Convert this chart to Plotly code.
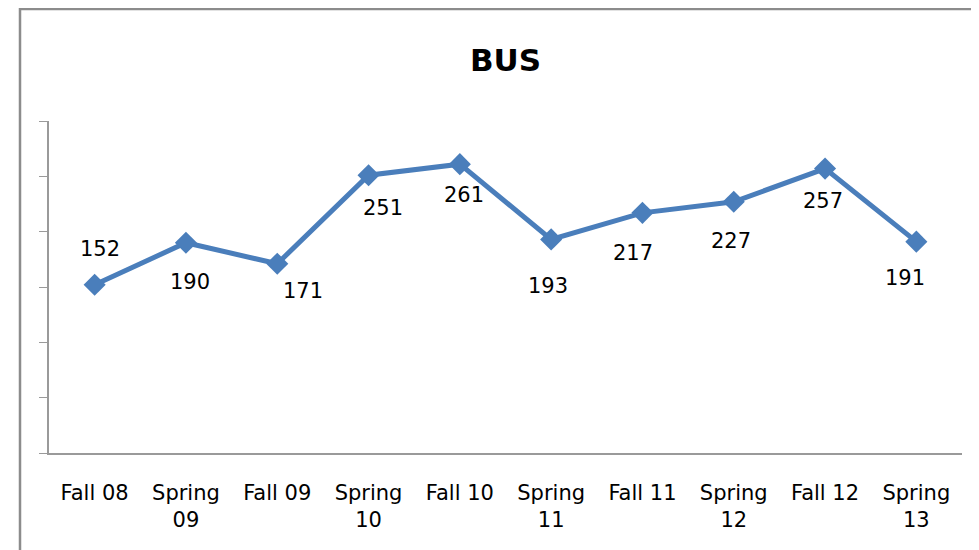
import plotly.graph_objects as go

# terms and BUS counts
terms = ["Fall 08", "Spring<br>09", "Fall 09", "Spring<br>10", "Fall 10",
         "Spring<br>11", "Fall 11", "Spring<br>12", "Fall 12", "Spring<br>13"]
bus = [152, 190, 171, 251, 261, 193, 217, 227, 257, 191]

# hand-placed label offsets (pixels), like the original chart
label_dx = [5, 4, 26, 14, 4, -3, -9, -3, -2, -11]
label_dy = [36, -39, -27, -33, -31, -47, -40, -39, -32, -36]

font = "'DejaVu Sans', sans-serif"

fig = go.Figure()
fig.add_trace(go.Scatter(
    x=terms, y=bus, mode="lines+markers",
    line=dict(color="#4A7EBB", width=5),
    marker=dict(symbol="diamond", size=17, color="#4A7EBB"),
    showlegend=False, hoverinfo="x+y",
))

for t, v, dx, dy in zip(terms, bus, label_dx, label_dy):
    fig.add_annotation(x=t, y=v, text=str(v), showarrow=False,
                       xshift=dx, yshift=dy,
                       font=dict(family=font, size=21, color="black"))

# outer chart border (top and left edges visible)
fig.add_shape(type="rect", xref="paper", yref="paper",
              x0=(20 - 49) / 913, x1=1.2, y0=-0.6, y1=(453 - 9) / 332,
              line=dict(color="#8c8c8c", width=2.5), layer="below")

# page body has an 8px margin, so the figure sits at (8, 8)
fig.update_layout(
    width=979, height=550,
    margin=dict(l=41, r=25, t=113, b=105),
    paper_bgcolor="white", plot_bgcolor="white",
    title=dict(text="<b>BUS</b>", xref="paper", x=0.5, xanchor="center",
               y=1 - 52 / 550, yanchor="middle",
               font=dict(family=font, size=31, color="black")),
    font=dict(family=font, size=21, color="black"),
)
fig.update_xaxes(range=[-0.5, len(terms) - 0.5],
                 showline=True, linecolor="#9a9a9a", linewidth=1.5,
                 showgrid=False, ticks="", ticklabelstandoff=20,
                 tickfont=dict(family=font, size=21, color="black"))
fig.update_yaxes(range=[0, 300], dtick=50, showline=True, linecolor="#9a9a9a",
                 linewidth=1.5, showgrid=False, zeroline=False,
                 ticks="outside", ticklen=8, tickcolor="#9a9a9a",
                 showticklabels=False)

fig.write_html("out.html")
